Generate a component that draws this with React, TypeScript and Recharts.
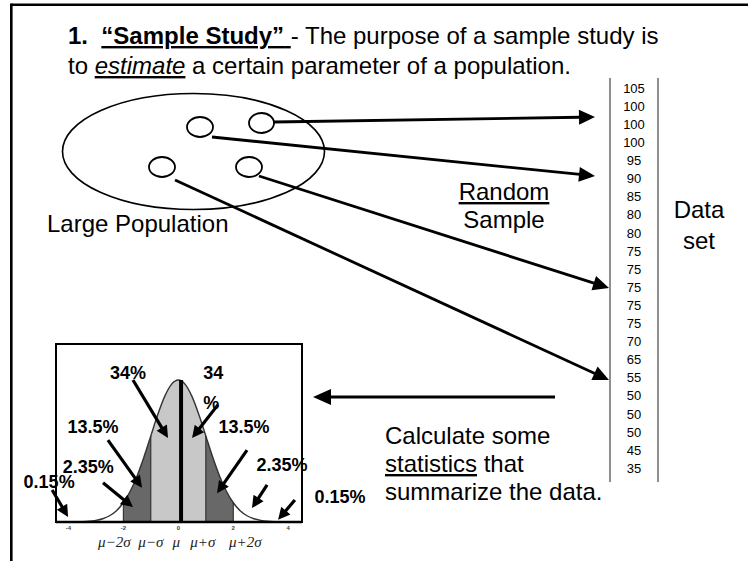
import { ComposedChart, Area, Line, XAxis, YAxis, ReferenceLine, ReferenceArea, ReferenceDot } from "recharts"

// bell curve: z in sigma units and its density
const zValues = [-4, -3.75, -3.5, -3.25, -3, -2.75, -2.5, -2.25, -2, -1.75, -1.5, -1.25, -1, -0.75, -0.5, -0.25, 0,
  0.25, 0.5, 0.75, 1, 1.25, 1.5, 1.75, 2, 2.25, 2.5, 2.75, 3, 3.25, 3.5, 3.75, 4]
const density = [0.0001, 0.0004, 0.0009, 0.002, 0.0044, 0.0091, 0.0175, 0.0317, 0.054, 0.0863, 0.1295, 0.1826, 0.242,
  0.3011, 0.3521, 0.3867, 0.3989, 0.3867, 0.3521, 0.3011, 0.242, 0.1826, 0.1295, 0.0863, 0.054, 0.0317, 0.0175,
  0.0091, 0.0044, 0.002, 0.0009, 0.0004, 0.0001]

const numberTicks = [-4, -2, 0, 2, 4]
const sigmaTicks = [-2, -1, 0, 1, 2]
const sigmaLabels = ["μ−2σ", "μ−σ", "μ", "μ+σ", "μ+2σ"]
const meanZ = 0.1

const pctLabels = ["34%", "34", "%", "13.5%", "13.5%", "2.35%", "2.35%", "0.15%", "0.15%"]

// the data set column on the right
const dataSet = [105, 100, 100, 100, 95, 90, 85, 80, 80, 75, 75, 75, 75, 75, 70, 65, 55, 50, 50, 50, 45, 35]

const rows = zValues.map((z, i) => ({
  z,
  y: density[i],
  light: Math.abs(z) <= 1 ? density[i] : null,
  dark: Math.abs(z) >= 1 && Math.abs(z) <= 2 ? density[i] : null,
}))

// annotation placement inside the inset (z, density units)
const labelPos = [
  [-1.83, 0.419], [1.27, 0.419], [1.2, 0.334], [-3.1, 0.267], [2.39, 0.267],
  [-3.28, 0.154], [3.77, 0.16], [-4.7, 0.112], [5.88, 0.07],
]
const insetArrows = [
  [-1.65, 0.399, -0.375, 0.236],
  [1.44, 0.329, 0.5, 0.236],
  [-2.56, 0.23, -1.32, 0.096],
  [2.5, 0.202, 1.41, 0.081],
  [-2.74, 0.11, -1.65, 0.042],
  [3.23, 0.104, 2.68, 0.039],
  [-4.59, 0.09, -4.01, 0.014],
  [4.24, 0.062, 3.63, 0.006],
]
// sigma labels sit a little off their ticks so they don't run together
const sigmaShift = [-9, 0, -2, -3, 12]

const SANS = '"Liberation Sans", Arial, sans-serif'

function arrow(x1: number, y1: number, x2: number, y2: number, w: number, head: number, half: number, key?: any) {
  const dx = x2 - x1
  const dy = y2 - y1
  const len = Math.hypot(dx, dy) || 1
  const ux = dx / len
  const uy = dy / len
  const bx = x2 - ux * head
  const by = y2 - uy * head
  return (
    <g key={key}>
      <line x1={x1} y1={y1} x2={bx + ux} y2={by + uy} stroke="#000" strokeWidth={w} />
      <polygon
        points={`${x2},${y2} ${bx - uy * half},${by + ux * half} ${bx + uy * half},${by - ux * half}`}
        fill="#000"
      />
    </g>
  )
}

const arrowShape = (p: any) => arrow(p.x1, p.y1, p.x2, p.y2, 3.2, 12, 6)

function AxisTick(p: any) {
  const v = p.payload.value
  const si = sigmaTicks.indexOf(v)
  return (
    <g>
      {numberTicks.includes(v) && (
        <text x={p.x} y={p.y + 8} textAnchor="middle" fontSize={6} fontWeight="bold" fill="#444" fontFamily={SANS}>
          {v}
        </text>
      )}
      {si >= 0 && (
        <text x={p.x + sigmaShift[si]} y={p.y + 25} textAnchor="middle" fontSize={15} fontStyle="italic" fill="#222"
          fontFamily='"Liberation Serif", "Times New Roman", serif'>
          {sigmaLabels[si]}
        </text>
      )}
    </g>
  )
}

function BellInset() {
  return (
    <ComposedChart width={380} height={231} data={rows} margin={{ top: 14, right: 78, bottom: 0, left: 46 }}>
      <XAxis
        dataKey="z"
        type="number"
        domain={[-4.45, 4.5]}
        ticks={[-4, -2, -1, 0, 1, 2, 4]}
        tickLine={false}
        tickSize={0}
        tickMargin={0}
        height={39}
        axisLine={{ stroke: "#000", strokeWidth: 2.5 }}
        tick={<AxisTick />}
        interval={0}
      />
      <YAxis
        type="number"
        domain={[0, 0.5]}
        ticks={[0.2, 0.3, 0.4]}
        width={10}
        tick={false}
        tickSize={4}
        axisLine={false}
        tickLine={{ stroke: "#000", strokeWidth: 1.5 }}
      />
      <Area dataKey="light" type="monotone" stroke="none" fill="#c8c8c8" fillOpacity={1} isAnimationActive={false} />
      <Area dataKey="dark" type="monotone" stroke="none" fill="#686868" fillOpacity={1} isAnimationActive={false} />
      <Line dataKey="y" type="monotone" stroke="#333" strokeWidth={1.4} dot={false} isAnimationActive={false} />
      {[-2, -1, 1, 2].map((z) => (
        <ReferenceLine
          key={z}
          segment={[{ x: z, y: 0 }, { x: z, y: density[zValues.indexOf(z)] }]}
          stroke="#222"
          strokeWidth={1}
          ifOverflow="visible"
        />
      ))}
      <ReferenceLine
        segment={[{ x: meanZ, y: 0 }, { x: meanZ, y: density[zValues.indexOf(0)] }]}
        stroke="#000"
        strokeWidth={4}
        ifOverflow="visible"
      />
      <ReferenceArea x1={-4.45} x2={4.5} y1={0} y2={0.5} fill="none" stroke="#000" strokeWidth={2} ifOverflow="visible" />
      {insetArrows.map((a, i) => (
        <ReferenceLine
          key={"a" + i}
          segment={[{ x: a[0], y: a[1] }, { x: a[2], y: a[3] }]}
          ifOverflow="visible"
          shape={arrowShape}
        />
      ))}
      {pctLabels.map((t, i) => (
        <ReferenceDot
          key={"l" + i}
          x={labelPos[i][0]}
          y={labelPos[i][1]}
          r={0}
          ifOverflow="visible"
          shape={(p: any) => (
            <text x={p.cx} y={p.cy} textAnchor="middle" dominantBaseline="central" fontSize={18}
              fontWeight="bold" fill="#000" fontFamily={SANS}>
              {t}
            </text>
          )}
        />
      ))}
    </ComposedChart>
  )
}

function Diagram() {
  const txt = { fontFamily: SANS, fontSize: 24, fill: "#000" } as const
  return (
    <svg width={748} height={561} style={{ position: "absolute", left: 0, top: 0, pointerEvents: "none" }}>
      <line x1={11.3} y1={4.8} x2={748} y2={4.8} stroke="#000" strokeWidth={2.6} />
      <line x1={11.3} y1={3.5} x2={11.3} y2={561} stroke="#000" strokeWidth={2.6} />

      <text x={68} y={44} {...txt}>
        <tspan fontWeight="bold">1.{"\u00a0\u00a0"}</tspan>
        <tspan fontWeight="bold" textDecoration="underline">“Sample Study”{"\u00a0"}</tspan>
        <tspan>- The purpose of a sample study is</tspan>
      </text>
      <text x={68} y={74} {...txt}>
        <tspan>to </tspan>
        <tspan fontStyle="italic" textDecoration="underline">estimate</tspan>
        <tspan> a certain parameter of a population.</tspan>
      </text>

      <ellipse cx={193.5} cy={151.5} rx={131} ry={58} fill="none" stroke="#000" strokeWidth={1.6} />
      <ellipse cx={200} cy={127} rx={13} ry={10} fill="none" stroke="#000" strokeWidth={1.8} />
      <ellipse cx={261.5} cy={123} rx={12.5} ry={10} fill="none" stroke="#000" strokeWidth={1.8} />
      <ellipse cx={162} cy={167} rx={13} ry={10} fill="none" stroke="#000" strokeWidth={1.8} />
      <ellipse cx={249} cy={167} rx={13} ry={10} fill="none" stroke="#000" strokeWidth={1.8} />

      {arrow(274, 122, 595, 117, 2.8, 16, 7.5)}
      {arrow(212, 137, 595, 176, 2.8, 16, 7.5)}
      {arrow(259, 176, 609, 288, 2.8, 16, 7.5)}
      {arrow(175, 180, 609, 380, 2.8, 16, 7.5)}

      <text x={47} y={232} {...txt}>Large Population</text>
      <text x={504} y={200} textAnchor="middle" textDecoration="underline" {...txt}>Random</text>
      <text x={504} y={228} textAnchor="middle" {...txt}>Sample</text>
      <text x={699} y={218} textAnchor="middle" {...txt}>Data</text>
      <text x={699} y={249} textAnchor="middle" {...txt}>set</text>

      <line x1={610} y1={78} x2={610} y2={482} stroke="#6b6b6b" strokeWidth={1.5} />
      <line x1={658} y1={78} x2={658} y2={482} stroke="#6b6b6b" strokeWidth={1.5} />
      {dataSet.map((v, i) => (
        <text key={i} x={634} y={92.7 + i * 18.1} textAnchor="middle" fontSize={13} fontFamily={SANS} fill="#000">
          {v}
        </text>
      ))}

      {arrow(555, 397, 313, 397, 3, 18, 8)}

      <text x={385} y={444} {...txt}>Calculate some</text>
      <text x={385} y={472} {...txt}>
        <tspan textDecoration="underline">statistics</tspan>
        <tspan> that</tspan>
      </text>
      <text x={385} y={500} {...txt}>summarize the data.</text>
    </svg>
  )
}

export default function App() {
  return (
    <div style={{ position: "absolute", left: 0, top: 0, width: 748, height: 561, background: "#fff" }}>
      <div style={{ position: "absolute", left: 0, top: 330 }}>
        <BellInset />
      </div>
      <Diagram />
    </div>
  )
}
